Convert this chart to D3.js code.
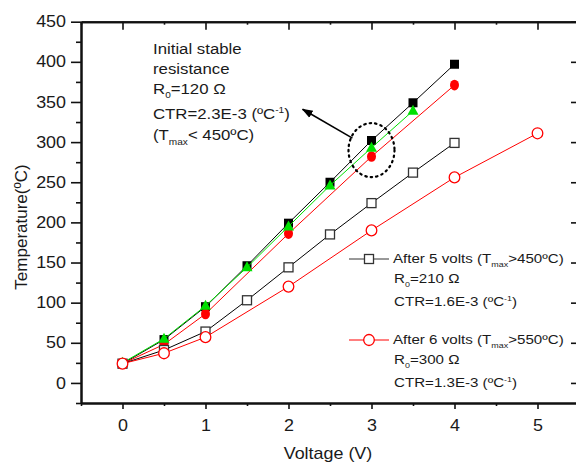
<!DOCTYPE html>
<html>
<head>
<meta charset="utf-8">
<script src="https://cdn.jsdelivr.net/npm/d3@7"></script>
<style>
  body { margin: 0; background: #fff; }
  svg { display: block; font-family: "Liberation Sans", Arial, sans-serif; }
  .axis path, .axis line { stroke: #111; }
  .axis text { fill: #1a1a1a; }
</style>
</head>
<body>
<div id="container"></div>
<script>
const WIDTH = 576;
const HEIGHT = 465;
const SX = 1.12; // text in the source is a bit wide

// initial stable resistance (filled squares)
const initialV = [0, 0.5, 1, 1.5, 2, 2.5, 3, 3.5, 4];
const initialT = [24, 54, 95, 146, 199, 250, 302, 349, 397];
// repeated run (green triangles)
const greenV = [0, 0.5, 1, 1.5, 2, 2.5, 3, 3.5];
const greenT = [25, 55, 96, 144, 195, 246, 293, 339];
// repeated run (filled red circles)
const redV = [0, 0.5, 1, 2, 3, 4];
const redT = [24, 48, 86, 186, 282, 371];
// after 5 volts (open squares)
const after5V = [0, 0.5, 1, 1.5, 2, 2.5, 3, 3.5, 4];
const after5T = [24, 41, 64, 103, 144, 185, 224, 262, 299];
// after 6 volts (open circles)
const after6V = [0, 0.5, 1, 2, 3, 4, 5];
const after6T = [24, 37, 57, 120, 190, 256, 311];

const xTicks = [0, 1, 2, 3, 4, 5];
const xMinor = [-0.5, 0.5, 1.5, 2.5, 3.5, 4.5];
const yTicks = [0, 50, 100, 150, 200, 250, 300, 350, 400, 450];
const yMinor = [-25, 25, 75, 125, 175, 225, 275, 325, 375, 425];

var XScale = d3.scaleLinear().domain([-0.5, 5.5]).range([81, 579]);
var YScale = d3.scaleLinear().domain([-25, 450]).range([403, 21.7]);

var zip = function (xs, ys) {
    return xs.map(function (x, i) { return {x: x, y: ys[i]}; });
};

var LINE = d3.line()
    .x(function (d) { return XScale(d.x); })
    .y(function (d) { return YScale(d.y); });

var stretch = function (sel) {
    sel.attr("transform", function () {
        var x = +d3.select(this).attr("x") || 0;
        return "translate(" + x + ",0) scale(" + SX + ",1) translate(" + (-x) + ",0)";
    });
};

var svg = d3.select("#container").append("svg")
    .attr("width", WIDTH)
    .attr("height", HEIGHT);

// ---- axes ----
var drawAxis = function (axis, tr, labels) {
    var g = svg.append("g").attr("class", "axis").attr("transform", tr).call(axis);
    g.select(".domain").attr("stroke-width", 2);
    g.selectAll(".tick line").attr("stroke-width", 1.6);
    if (labels) {
        g.selectAll("text").attr("font-size", 16).call(stretch);
    } else {
        g.selectAll("text").remove();
    }
    return g;
};

var y0 = YScale.range()[0], y1 = YScale.range()[1];
var x0 = XScale.range()[0], x1 = XScale.range()[1];
var fmt = d3.format("d");

drawAxis(d3.axisLeft(YScale).tickValues(yMinor).tickSize(5).tickSizeOuter(0), "translate(" + x0 + ",0)", false);
drawAxis(d3.axisLeft(YScale).tickValues(yTicks).tickFormat(fmt).tickSize(10).tickPadding(5).tickSizeOuter(0), "translate(" + x0 + ",0)", true);
drawAxis(d3.axisRight(YScale).tickValues(yTicks).tickSize(-8).tickSizeOuter(0), "translate(" + x1 + ",0)", false);
drawAxis(d3.axisBottom(XScale).tickValues(xMinor).tickSize(3).tickSizeOuter(0), "translate(0," + y0 + ")", false);
drawAxis(d3.axisBottom(XScale).tickValues(xTicks).tickFormat(fmt).tickSize(6).tickPadding(11).tickSizeOuter(0), "translate(0," + y0 + ")", true);
drawAxis(d3.axisTop(XScale).tickValues(xMinor).tickSize(-3).tickSizeOuter(0), "translate(0," + y1 + ")", false);
drawAxis(d3.axisTop(XScale).tickValues(xTicks).tickSize(-8).tickSizeOuter(0), "translate(0," + y1 + ")", false);

// axis titles
svg.append("text")
    .attr("x", (x0 + x1) / 2 - 2).attr("y", 459)
    .attr("text-anchor", "middle").attr("font-size", 16).attr("fill", "#1a1a1a")
    .text("Voltage (V)").call(stretch);

svg.append("text")
    .attr("transform", "translate(27,227) rotate(-90)")
    .attr("text-anchor", "middle").attr("font-size", 17).attr("fill", "#1a1a1a")
    .text("Temperature(ºC)");

// ---- series ----
var series = [
    {data: zip(initialV, initialT), color: "#000", marker: "fsquare"},
    {data: zip(redV, redT), color: "#ff0000", marker: "fcircle"},
    {data: zip(greenV, greenT), color: "#00e000", marker: "triangle"},
    {data: zip(after5V, after5T), color: "#000", marker: "osquare"},
    {data: zip(after6V, after6T), color: "#ff0000", marker: "ocircle"}
];

var drawMarker = function (g, type, cx, cy) {
    if (type === "fsquare") {
        g.append("rect").attr("x", cx - 4.5).attr("y", cy - 4.5).attr("width", 9).attr("height", 9)
            .attr("fill", "#000");
    } else if (type === "osquare") {
        g.append("rect").attr("x", cx - 4.5).attr("y", cy - 4.5).attr("width", 9).attr("height", 9)
            .attr("fill", "#fff").attr("stroke", "#333").attr("stroke-width", 1.3);
    } else if (type === "fcircle") {
        g.append("ellipse").attr("cx", cx).attr("cy", cy).attr("rx", 4.5).attr("ry", 5.3)
            .attr("fill", "#ff0000");
    } else if (type === "ocircle") {
        g.append("ellipse").attr("cx", cx).attr("cy", cy).attr("rx", 5.3).attr("ry", 5.5)
            .attr("fill", "#fff").attr("stroke", "#ff0000").attr("stroke-width", 1.3);
    } else if (type === "triangle") {
        g.append("path")
            .attr("d", "M" + cx + "," + (cy - 6) + "L" + (cx + 5.5) + "," + (cy + 4) + "L" + (cx - 5.5) + "," + (cy + 4) + "Z")
            .attr("fill", "#00e000");
    }
};

series.forEach(function (s) {
    var g = svg.append("g");
    g.append("path").datum(s.data).attr("d", LINE)
        .attr("fill", "none").attr("stroke", s.color).attr("stroke-width", 1);
    s.data.forEach(function (d) {
        drawMarker(g, s.marker, XScale(d.x), YScale(d.y));
    });
});

// ---- annotation ----
var note = svg.append("g").attr("font-size", 15).attr("fill", "#1a1a1a");
var noteX = 153;
var addLine = function (y, parts) {
    var t = note.append("text").attr("x", noteX).attr("y", y);
    parts.forEach(function (p) {
        var sp = t.append("tspan").text(p.t);
        if (p.sub) sp.attr("font-size", 9).attr("dy", p.dy);
        if (p.back) sp.attr("dy", p.back);
    });
    t.call(stretch);
};
addLine(54, [{t: "Initial stable"}]);
addLine(74, [{t: "resistance"}]);
addLine(94, [{t: "R"}, {t: "0", sub: true, dy: 4}, {t: "=120 Ω", back: -4}]);
addLine(119, [{t: "CTR=2.3E-3 (ºC"}, {t: "-1", sub: true, dy: -6}, {t: ")", back: 6}]);
addLine(140, [{t: "(T"}, {t: "max", sub: true, dy: 5}, {t: "< 450ºC)", back: -5}]);

// dotted ring around the 3 V points
svg.append("ellipse")
    .attr("cx", XScale(3)).attr("cy", YScale(290)).attr("rx", 23).attr("ry", 27)
    .attr("fill", "none").attr("stroke", "#000").attr("stroke-width", 2.2)
    .attr("stroke-dasharray", "1.5,4").attr("stroke-linecap", "round");

svg.append("defs").append("marker")
    .attr("id", "head").attr("viewBox", "0 0 10 10").attr("refX", 9).attr("refY", 5)
    .attr("markerWidth", 7).attr("markerHeight", 7).attr("orient", "auto")
    .append("path").attr("d", "M0,1.5L10,5L0,8.5Z").attr("fill", "#000");

svg.append("line")
    .attr("x1", XScale(2.77)).attr("y1", YScale(305))
    .attr("x2", XScale(2.17)).attr("y2", YScale(341))
    .attr("stroke", "#000").attr("stroke-width", 1.6)
    .attr("marker-end", "url(#head)");

// ---- legend ----
var legend = svg.append("g").attr("font-size", 13.5).attr("fill", "#1a1a1a");
var legendItems = [
    {y: 259, color: "#333", marker: "osquare", lines: [
        [{t: "After 5 volts (T"}, {t: "max", sub: true, dy: 4}, {t: ">450ºC)", back: -4}],
        [{t: "R"}, {t: "0", sub: true, dy: 4}, {t: "=210 Ω", back: -4}],
        [{t: "CTR=1.6E-3 (ºC"}, {t: "-1", sub: true, dy: -5}, {t: ")", back: 5}]
    ]},
    {y: 340, color: "#ff0000", marker: "ocircle", lines: [
        [{t: "After 6 volts (T"}, {t: "max", sub: true, dy: 4}, {t: ">550ºC)", back: -4}],
        [{t: "R"}, {t: "0", sub: true, dy: 4}, {t: "=300 Ω", back: -4}],
        [{t: "CTR=1.3E-3 (ºC"}, {t: "-1", sub: true, dy: -5}, {t: ")", back: 5}]
    ]}
];
var lineOffsets = [3.7, 24, 47.5];
legendItems.forEach(function (item) {
    legend.append("line").attr("x1", 349).attr("x2", 389).attr("y1", item.y).attr("y2", item.y)
        .attr("stroke", item.color).attr("stroke-width", 1);
    drawMarker(legend, item.marker, 369, item.y);
    item.lines.forEach(function (parts, i) {
        var t = legend.append("text").attr("x", i === 0 ? 393 : 394).attr("y", item.y + lineOffsets[i]);
        parts.forEach(function (p) {
            var sp = t.append("tspan").text(p.t);
            if (p.sub) sp.attr("font-size", 8).attr("dy", p.dy);
            if (p.back) sp.attr("dy", p.back);
        });
        t.call(stretch);
    });
});
</script>
</body>
</html>
